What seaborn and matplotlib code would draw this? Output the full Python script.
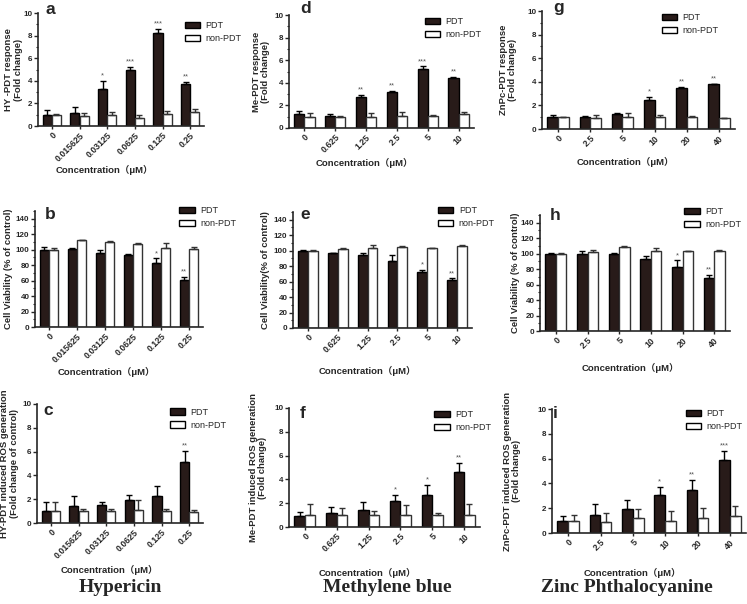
import numpy as np
import pandas as pd
import matplotlib
matplotlib.use("Agg")
import matplotlib.pyplot as plt
import seaborn as sns

sns.set_style("ticks")
plt.rcParams['font.family'] = ['Liberation Sans', 'Noto Sans CJK SC', 'DejaVu Sans']
plt.rcParams['font.weight'] = 'bold'
plt.rcParams['axes.labelweight'] = 'bold'

hy_conc = ["0", "0.015625", "0.03125", "0.0625", "0.125", "0.25"]
me_conc = ["0", "0.625", "1.25", "2.5", "5", "10"]
zn_conc = ["0", "2.5", "5", "10", "20", "40"]

# a: HY-PDT response
a_pdt = [1.0, 1.15, 3.3, 5.0, 8.25, 3.7]
a_pdt_err = [0.4, 0.5, 0.7, 0.25, 0.35, 0.2]
a_non = [1.0, 0.85, 0.95, 0.75, 1.1, 1.2]
a_non_err = [0.05, 0.3, 0.3, 0.2, 0.2, 0.3]
a_stars = ["", "", "*", "***", "***", "**"]

# d: Me-PDT response
d_pdt = [1.2, 1.1, 2.75, 3.2, 5.25, 4.45]
d_pdt_err = [0.3, 0.15, 0.2, 0.1, 0.2, 0.1]
d_non = [1.0, 1.0, 1.0, 1.05, 1.1, 1.2]
d_non_err = [0.35, 0.02, 0.3, 0.35, 0.02, 0.25]
d_stars = ["", "", "**", "**", "***", "**"]

# g: ZnPc-PDT response
g_pdt = [1.0, 1.05, 1.3, 2.45, 3.5, 3.8]
g_pdt_err = [0.2, 0.05, 0.05, 0.3, 0.1, 0.05]
g_non = [1.0, 0.9, 1.05, 1.0, 1.05, 0.95]
g_non_err = [0.03, 0.3, 0.3, 0.15, 0.02, 0.02]
g_stars = ["", "", "", "*", "**", "**"]

# b: HY cell viability
b_pdt = [100, 101, 96, 93, 83, 61]
b_pdt_err = [3, 1, 4, 2, 6, 4]
b_non = [100, 112, 110, 107, 102, 101]
b_non_err = [2, 1, 1, 1.5, 7, 3]
b_stars = ["", "", "", "", "*", "**"]

# e: Me cell viability
e_pdt = [100, 97, 94, 87, 72, 62]
e_pdt_err = [1.5, 0.5, 2.5, 7, 3.5, 2.5]
e_non = [100, 102, 104, 105, 103, 106]
e_non_err = [1.5, 2, 3, 1.5, 1, 1]
e_stars = ["", "", "", "", "*", "**"]

# h: ZnPc cell viability
h_pdt = [100, 100, 99, 93, 83, 69]
h_pdt_err = [0.5, 4, 2.5, 4.5, 8.5, 4]
h_non = [100, 102, 109, 104, 103, 104]
h_non_err = [0.5, 3, 1, 3, 1, 0.5]
h_stars = ["", "", "", "", "*", "**"]

# c: HY ROS
c_pdt = [1.0, 1.45, 1.55, 1.95, 2.3, 5.15]
c_pdt_err = [0.8, 0.8, 0.2, 0.4, 0.85, 0.9]
c_non = [1.0, 1.05, 1.0, 1.1, 1.05, 0.95]
c_non_err = [0.75, 0.1, 0.2, 0.8, 0.15, 0.15]
c_stars = ["", "", "", "", "", "**"]

# f: Me ROS
f_pdt = [0.95, 1.15, 1.45, 2.15, 2.65, 4.65]
f_pdt_err = [0.3, 0.5, 0.65, 0.55, 0.9, 0.75]
f_non = [1.0, 1.05, 1.0, 1.0, 1.05, 1.0]
f_non_err = [0.9, 0.55, 0.35, 0.85, 0.1, 0.9]
f_stars = ["", "", "", "*", "*", "**"]

# i: ZnPc ROS
i_pdt = [1.0, 1.45, 1.9, 3.05, 3.5, 5.85]
i_pdt_err = [0.35, 0.9, 0.8, 0.7, 0.8, 0.8]
i_non = [0.95, 0.9, 1.25, 1.0, 1.2, 1.35]
i_non_err = [0.5, 0.7, 0.7, 0.75, 0.8, 0.8]
i_stars = ["", "", "", "*", "**", "***"]

DARK = "#2b1916"
W, H = 747, 604


def panel(rect, conc, pdt, pdt_err, non, non_err, stars, ymax, step, minor,
          ylabel, letter, ylab_x, xlab_xy, leg_xy, let_off):
    l, r, t, b = rect
    ax = fig.add_axes([l / W, 1 - b / H, (r - l) / W, (b - t) / H])
    df = pd.DataFrame({
        "conc": conc * 2,
        "val": list(pdt) + list(non),
        "grp": ["PDT"] * len(conc) + ["non-PDT"] * len(conc),
    })
    sns.barplot(data=df, x="conc", y="val", hue="grp", order=conc,
                hue_order=["PDT", "non-PDT"], palette=[DARK, "white"],
                edgecolor="black", linewidth=1.0, width=0.66,
                errorbar=None, ax=ax)
    bars = list(ax.containers)
    for p in bars[1].patches:
        p.set_edgecolor("#333333")
    errs = [pdt_err, non_err]
    vals = [pdt, non]
    for k, cont in enumerate(bars):
        xs = [p.get_x() + p.get_width() / 2 for p in cont.patches]
        ax.errorbar(xs, vals[k], yerr=[np.zeros(len(xs)), errs[k]], fmt="none",
                    ecolor="black" if k == 0 else "#333333", elinewidth=1.0,
                    capsize=2.2, capthick=1.0)
        if k == 0:
            for x, v, e, s in zip(xs, vals[k], errs[k], stars):
                if s:
                    ax.text(x, v + e + ymax * 0.01, s, ha="center", va="bottom",
                            fontsize=5.5, color="#555555", fontweight="normal")
    ax.set_ylim(0, ymax)
    ax.set_xlim(-0.5, len(conc) - 0.5)
    top_tick = ymax if ymax == 10 else ymax - step / 2
    ax.set_yticks(np.arange(0, top_tick + 0.01, step))
    if minor:
        ax.set_yticks(np.arange(0, ymax + 0.01, step / 2), minor=True)
    ax.tick_params(axis="y", which="major", length=3, width=1, labelsize=5.8, pad=1)
    ax.tick_params(axis="y", which="minor", length=1.8, width=0.8)
    ax.tick_params(axis="x", length=2.5, width=1, labelsize=6.3, pad=1)
    ax.set_xticks(range(len(conc)))
    ax.set_xticklabels(conc, rotation=45, ha="right", rotation_mode="anchor")
    for lab in ax.get_xticklabels() + ax.get_yticklabels():
        lab.set_fontweight("bold")
    for sp in ["bottom", "left"]:
        ax.spines[sp].set_linewidth(1.2)
    sns.despine(ax=ax)

    ax.set_xlabel("Concentration（μM）", fontsize=6.8)
    ax.xaxis.set_label_coords(((l + r) / 2 + xlab_xy[0] - l) / (r - l),
                              (b - xlab_xy[1]) / (b - t))
    ax.xaxis.label.set_va("center")
    ax.set_ylabel(ylabel, fontsize=6.8, linespacing=1.05)
    ax.yaxis.set_label_coords(ylab_x / (r - l), 0.5)
    ax.yaxis.label.set_va("center")

    ax.legend(loc="upper left", bbox_to_anchor=leg_xy, frameon=False,
              fontsize=6.5, handlelength=1.7, handleheight=0.7, labelspacing=0.45,
              handletextpad=0.6, borderaxespad=0, borderpad=0)
    for tx in ax.get_legend().get_texts():
        tx.set_fontweight("normal")
    ax.annotate(letter, xy=(0, 1), xycoords="axes fraction",
                xytext=(let_off[0], -let_off[1]), textcoords="offset pixels",
                fontsize=12.5, fontweight="bold", va="baseline", ha="left")
    return ax


fig = plt.figure(figsize=(W / 100, H / 100), dpi=100)

panel((38, 204, 13, 126), hy_conc, a_pdt, a_pdt_err, a_non, a_non_err, a_stars,
      10, 2, True, "HY -PDT response\n(Fold change)", "a",
      -24.5, (-17, 170), (0.885, 0.93), (7, 1))
panel((289, 474, 15, 128), me_conc, d_pdt, d_pdt_err, d_non, d_non_err, d_stars,
      10, 2, True, "Me-PDT response\n(Fold change)", "d",
      -28, (-17, 163), (0.735, 0.98), (11, -2))
panel((542, 735, 11, 129), zn_conc, g_pdt, g_pdt_err, g_non, g_non_err, g_stars,
      10, 2, True, "ZnPc-PDT response\n(Fold change)", "g",
      -34, (-13, 162), (0.62, 0.98), (11, 1))

panel((35, 203, 211, 327), hy_conc, b_pdt, b_pdt_err, b_non, b_non_err, b_stars,
      150, 20, True, "Cell Viability (% of control)", "b",
      -26, (-13, 372), (0.86, 1.04), (10, 8))
panel((293, 472, 212, 328), me_conc, e_pdt, e_pdt_err, e_non, e_non_err, e_stars,
      150, 20, True, "Cell Viability(% of control)", "e",
      -28, (-15, 371), (0.81, 1.05), (7, 7))
panel((540, 730, 215, 331), zn_conc, h_pdt, h_pdt_err, h_non, h_non_err, h_stars,
      150, 20, True, "Cell Viability (% of control)", "h",
      -24, (-5, 368), (0.76, 1.07), (10, 5))

panel((37, 203, 404, 523), hy_conc, c_pdt, c_pdt_err, c_non, c_non_err, c_stars,
      10, 2, False, "HY-PDT induced ROS generation\n(Fold change of control)", "c",
      -27.5, (-11, 570), (0.80, 0.97), (6, 11))
panel((289, 480, 408, 527), me_conc, f_pdt, f_pdt_err, f_non, f_non_err, f_stars,
      10, 2, False, "Me-PDT induced ROS generation\n(Fold change)", "f",
      -31, (-17, 573), (0.76, 0.98), (11, 10))
panel((552, 746, 409, 533), zn_conc, i_pdt, i_pdt_err, i_non, i_non_err, i_stars,
      10, 2, False, "ZnPc-PDT induced ROS generation\n(Fold change)", "i",
      -40, (-17, 573), (0.69, 1.0), (1, 9))

for name, xc in [("Hypericin", 120), ("Methylene blue", 387), ("Zinc Phthalocyanine", 627)]:
    fig.text(xc / W, 1 - 587 / H, name, ha="center", va="center",
             fontsize=14, fontweight="bold", family="Liberation Serif")

fig.savefig("out.png", dpi=100)
